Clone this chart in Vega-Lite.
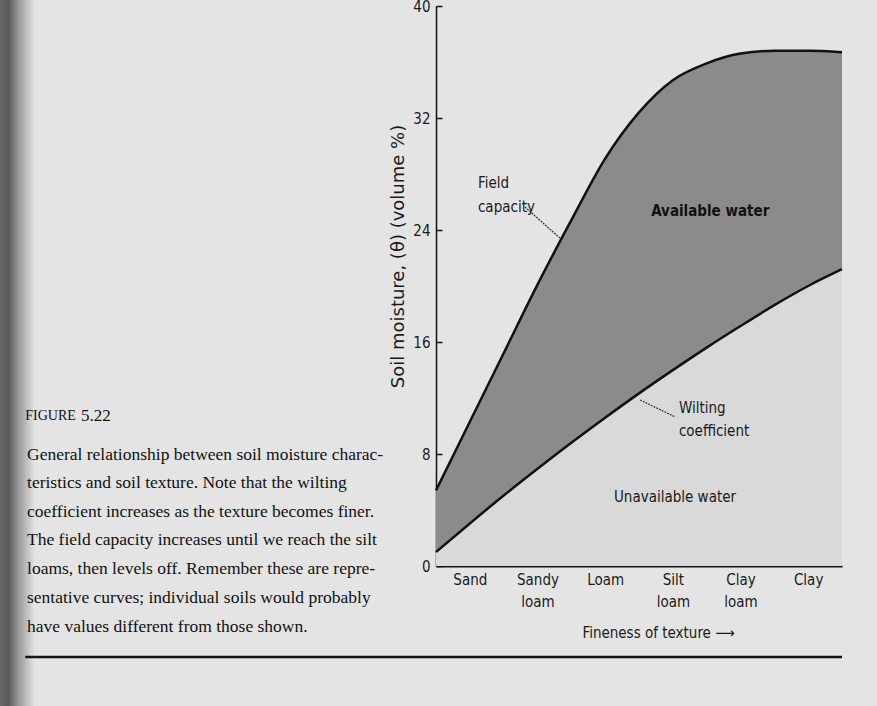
{
  "$schema": "https://vega.github.io/schema/vega-lite/v6.json",
  "width": 406,
  "height": 560,
  "autosize": {"type": "none"},
  "padding": {"left": 436, "top": 6, "right": 35, "bottom": 140},
  "background": "#e4e4e4",
  "config": {"view": {"stroke": null}},
  "datasets": {
    "curves": [
      {"x": 0, "fc": 5.4, "wc": 1.0},
      {"x": 0.5, "fc": 10.3, "wc": 3.04},
      {"x": 1.0, "fc": 15.2, "wc": 5.03},
      {"x": 1.5, "fc": 20.1, "wc": 6.94},
      {"x": 2.0, "fc": 24.7, "wc": 8.8},
      {"x": 2.5, "fc": 29.1, "wc": 10.59},
      {"x": 3.0, "fc": 32.4, "wc": 12.33},
      {"x": 3.5, "fc": 34.7, "wc": 13.99},
      {"x": 4.0, "fc": 35.9, "wc": 15.6},
      {"x": 4.5, "fc": 36.6, "wc": 17.14},
      {"x": 5.0, "fc": 36.8, "wc": 18.63},
      {"x": 5.5, "fc": 36.8, "wc": 20.0},
      {"x": 6.0, "fc": 36.7, "wc": 21.2}
    ],
    "leaders": [
      {"x": 1.315, "y": 25.64, "x2": 1.83, "y2": 23.43},
      {"x": 3.015, "y": 11.86, "x2": 3.53, "y2": 10.66}
    ],
    "notes": [
      {"x": 0.62, "y": 27.36, "text": "Field"},
      {"x": 0.62, "y": 25.64, "text": "capacity"},
      {"x": 3.59, "y": 11.29, "text": "Wilting"},
      {"x": 3.59, "y": 9.64, "text": "coefficient"},
      {"x": 2.63, "y": 4.93, "text": "Unavailable water"}
    ],
    "bold": [
      {"x": 3.18, "y": 25.36, "text": "Available water"}
    ],
    "figword": [
      {"x": -6.07, "y": 10.71, "text": "FIGURE"}
    ],
    "fignum": [
      {"x": -5.246, "y": 10.75, "text": "5.22"}
    ],
    "caption": [
      {"x": -6.044, "y": 7.93, "text": "General relationship between soil moisture charac-"},
      {"x": -6.044, "y": 5.93, "text": "teristics and soil texture. Note that the wilting"},
      {"x": -6.044, "y": 3.86, "text": "coefficient increases as the texture becomes finer."},
      {"x": -6.044, "y": 1.86, "text": "The field capacity increases until we reach the silt"},
      {"x": -6.044, "y": -0.21, "text": "loams, then levels off. Remember these are repre-"},
      {"x": -6.044, "y": -2.29, "text": "sentative curves; individual soils would probably"},
      {"x": -6.044, "y": -4.36, "text": "have values different from those shown."}
    ],
    "shadow": [
      {"x": -6.45, "x2": -5.93, "y": -10.2, "y2": 40.5}
    ],
    "bottom": [
      {"x": -6.07, "x2": 6.0, "y": -6.5}
    ]
  },
  "layer": [
    {
      "data": {"name": "shadow"},
      "mark": {"type": "rect", "fill": {"gradient": "linear", "x1": 0, "x2": 1, "y1": 0, "y2": 0, "stops": [{"offset": 0, "color": "#6a6a6a"}, {"offset": 0.25, "color": "#5a5a5a"}, {"offset": 0.55, "color": "#9a9a9a"}, {"offset": 1, "color": "#e4e4e4"}]}},
      "encoding": {
        "x": {"field": "x", "type": "quantitative", "scale": {"domain": [0, 6], "nice": false},
          "axis": {"values": [0.5, 1.5, 2.5, 3.5, 4.5, 5.5], "ticks": false, "grid": false,
            "labelExpr": "datum.value < 1 ? 'Sand' : datum.value < 2 ? ['Sandy','loam'] : datum.value < 3 ? 'Loam' : datum.value < 4 ? ['Silt','loam'] : datum.value < 5 ? ['Clay','loam'] : 'Clay'",
            "labelFont": "DejaVu Sans Condensed", "labelFontSize": 15, "labelColor": "#1a1a1a",
            "labelLineHeight": 22, "labelPadding": 6, "labelBaseline": "top",
            "domainColor": "#111111", "domainWidth": 2,
            "title": "Fineness of texture ⟶", "titleFont": "DejaVu Sans Condensed", "titleFontSize": 15, "titleFontWeight": "normal", "titleColor": "#1a1a1a",
            "titleX": 222, "titleY": 66, "titleBaseline": "middle", "titleAnchor": "middle"}},
        "x2": {"field": "x2"},
        "y": {"field": "y", "type": "quantitative", "scale": {"domain": [0, 40], "nice": false},
          "axis": {"values": [0, 8, 16, 24, 32, 40], "grid": false, "tickSize": -6, "tickColor": "#111111", "tickWidth": 1.5,
            "labelFont": "DejaVu Sans Condensed", "labelFontSize": 15, "labelColor": "#1a1a1a", "labelPadding": 12,
            "domainColor": "#111111", "domainWidth": 1.5,
            "title": "Soil moisture, (θ) (volume %)", "titleFont": "DejaVu Sans", "titleFontSize": 18, "titleFontWeight": "normal", "titleColor": "#1a1a1a",
            "titleX": -38, "titleY": 250, "titleBaseline": "middle", "titleAnchor": "middle"}},
        "y2": {"field": "y2"}
      }
    },
    {
      "data": {"name": "curves"},
      "mark": {"type": "area", "fill": "#d9d9d9", "interpolate": "monotone"},
      "encoding": {
        "x": {"field": "x", "type": "quantitative"},
        "y": {"field": "wc", "type": "quantitative"},
        "y2": {"datum": 0}
      }
    },
    {
      "data": {"name": "curves"},
      "mark": {"type": "area", "fill": "#8b8b8b", "interpolate": "monotone"},
      "encoding": {
        "x": {"field": "x", "type": "quantitative"},
        "y": {"field": "fc", "type": "quantitative"},
        "y2": {"field": "wc"}
      }
    },
    {
      "data": {"name": "curves"},
      "mark": {"type": "line", "stroke": "#111111", "strokeWidth": 2.5, "interpolate": "monotone"},
      "encoding": {
        "x": {"field": "x", "type": "quantitative"},
        "y": {"field": "fc", "type": "quantitative"}
      }
    },
    {
      "data": {"name": "curves"},
      "mark": {"type": "line", "stroke": "#111111", "strokeWidth": 2.5, "interpolate": "monotone"},
      "encoding": {
        "x": {"field": "x", "type": "quantitative"},
        "y": {"field": "wc", "type": "quantitative"}
      }
    },
    {
      "data": {"name": "leaders"},
      "mark": {"type": "rule", "stroke": "#333333", "strokeWidth": 1.2, "strokeDash": [2, 1]},
      "encoding": {
        "x": {"field": "x", "type": "quantitative"},
        "y": {"field": "y", "type": "quantitative"},
        "x2": {"field": "x2"},
        "y2": {"field": "y2"}
      }
    },
    {
      "data": {"name": "notes"},
      "mark": {"type": "text", "align": "left", "baseline": "middle", "font": "DejaVu Sans Condensed", "fontSize": 15, "fill": "#1a1a1a"},
      "encoding": {
        "x": {"field": "x", "type": "quantitative"},
        "y": {"field": "y", "type": "quantitative"},
        "text": {"field": "text"}
      }
    },
    {
      "data": {"name": "bold"},
      "mark": {"type": "text", "align": "left", "baseline": "middle", "font": "DejaVu Sans Condensed", "fontSize": 15, "fontWeight": "bold", "fill": "#111111"},
      "encoding": {
        "x": {"field": "x", "type": "quantitative"},
        "y": {"field": "y", "type": "quantitative"},
        "text": {"field": "text"}
      }
    },
    {
      "data": {"name": "figword"},
      "mark": {"type": "text", "align": "left", "baseline": "middle", "font": "Liberation Serif", "fontSize": 14, "fill": "#111111"},
      "encoding": {
        "x": {"field": "x", "type": "quantitative"},
        "y": {"field": "y", "type": "quantitative"},
        "text": {"field": "text"}
      }
    },
    {
      "data": {"name": "fignum"},
      "mark": {"type": "text", "align": "left", "baseline": "middle", "font": "Liberation Serif", "fontSize": 17, "fill": "#111111"},
      "encoding": {
        "x": {"field": "x", "type": "quantitative"},
        "y": {"field": "y", "type": "quantitative"},
        "text": {"field": "text"}
      }
    },
    {
      "data": {"name": "caption"},
      "mark": {"type": "text", "align": "left", "baseline": "middle", "font": "Liberation Serif", "fontSize": 17.5, "fill": "#111111"},
      "encoding": {
        "x": {"field": "x", "type": "quantitative"},
        "y": {"field": "y", "type": "quantitative"},
        "text": {"field": "text"}
      }
    },
    {
      "data": {"name": "bottom"},
      "mark": {"type": "rule", "stroke": "#111111", "strokeWidth": 2.5},
      "encoding": {
        "x": {"field": "x", "type": "quantitative"},
        "x2": {"field": "x2"},
        "y": {"field": "y", "type": "quantitative"}
      }
    }
  ]
}
